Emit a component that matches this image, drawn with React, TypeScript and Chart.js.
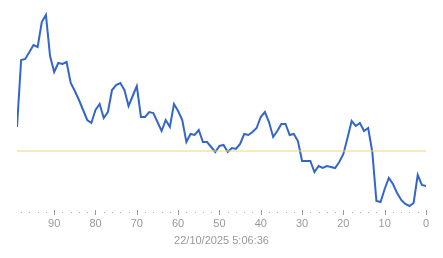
import React, { useEffect, useRef } from "react";
import { Chart, registerables } from "chart.js";

Chart.register(...registerables);

// Sample age (units ago), from oldest (left) to newest (right)
const ages: number[] = Array.from({ length: 100 }, (_, i) => 99 - i);

// Series values (arbitrary units) for ages 99 → 0
const values: number[] = [
  83, 150, 151, 158, 165, 163, 188, 195, 154, 138,
  147, 146, 148, 127, 119, 110, 100, 90, 87, 100,
  106, 92, 98, 120, 125, 127, 120, 104, 114, 124,
  93, 93, 98, 97, 88, 79, 90, 83, 106, 99,
  90, 68, 76, 75, 80, 68, 68, 63, 58, 64,
  65, 58, 62, 61, 66, 76, 75, 78, 82, 93,
  98, 88, 73, 79, 86, 86, 75, 76, 69, 49,
  49, 49, 38, 44, 42, 44, 43, 42, 48, 56,
  72, 89, 84, 87, 79, 82, 58, 9, 8, 21,
  32, 26, 17, 10, 6, 4, 7, 35, 25, 24,
];

const referenceValue = 59;
const xTickValues: number[] = [90, 80, 70, 60, 50, 40, 30, 20, 10, 0];
const axisTitle = "22/10/2025 5:06:36";

const tickMarks = {
  id: "tickMarks",
  afterDraw(chart: any) {
    const { ctx, chartArea, scales } = chart;
    const x = scales.x;
    ctx.save();
    for (let v = 0; v <= 98; v += 2) {
      const px = Math.round(x.getPixelForValue(v)) + 0.5;
      if (v % 10 === 0) {
        ctx.strokeStyle = "#9a9a9a";
        ctx.lineWidth = 1;
        ctx.beginPath();
        ctx.moveTo(px, chartArea.bottom);
        ctx.lineTo(px, chartArea.bottom + 5);
        ctx.stroke();
      } else {
        ctx.fillStyle = "#b0b0b0";
        ctx.fillRect(px - 0.5, chartArea.bottom + 2, 1, 1);
      }
    }
    ctx.restore();
  },
};

export default function App() {
  const ref = useRef<HTMLCanvasElement | null>(null);

  useEffect(() => {
    if (!ref.current) return;
    const data = ages.map((a, i) => ({ x: a, y: values[i] }));
    const refLine = [
      { x: ages[0], y: referenceValue },
      { x: ages[ages.length - 1], y: referenceValue },
    ];
    const chart = new Chart(ref.current, {
      type: "line",
      data: {
        datasets: [
          {
            data: refLine,
            borderColor: "#f2d27c",
            borderWidth: 1,
            pointRadius: 0,
            tension: 0,
          },
          {
            data,
            borderColor: "#3366cc",
            borderWidth: 2,
            pointRadius: 0,
            tension: 0,
          },
        ],
      },
      options: {
        responsive: false,
        animation: false,
        layout: { padding: { left: 17, right: 17, top: 0, bottom: 0 } },
        plugins: { legend: { display: false }, tooltip: { enabled: false } },
        scales: {
          x: {
            type: "linear",
            reverse: true,
            min: 0,
            max: 99,
            border: { display: false },
            grid: { display: false, drawTicks: false },
            afterBuildTicks: (scale: any) => {
              scale.ticks = xTickValues.map((v) => ({ value: v }));
            },
            afterFit: (scale: any) => {
              scale.height = 48;
            },
            ticks: {
              autoSkip: false,
              maxRotation: 0,
              padding: 7,
              color: "#999999",
              font: { family: "'Liberation Sans', Arial, sans-serif", size: 11 },
            },
            title: {
              display: true,
              text: axisTitle,
              color: "#999999",
              padding: { top: 0, bottom: 10 },
              font: { family: "'Liberation Sans', Arial, sans-serif", size: 11 },
            },
          },
          y: {
            display: false,
            min: 0,
            max: 210,
          },
        },
      },
      plugins: [tickMarks],
    });
    return () => chart.destroy();
  }, []);

  return (
    <div style={{ position: "fixed", left: 0, top: 0, width: 443, height: 258, background: "#fff" }}>
      <canvas ref={ref} width={443} height={258} />
    </div>
  );
}
